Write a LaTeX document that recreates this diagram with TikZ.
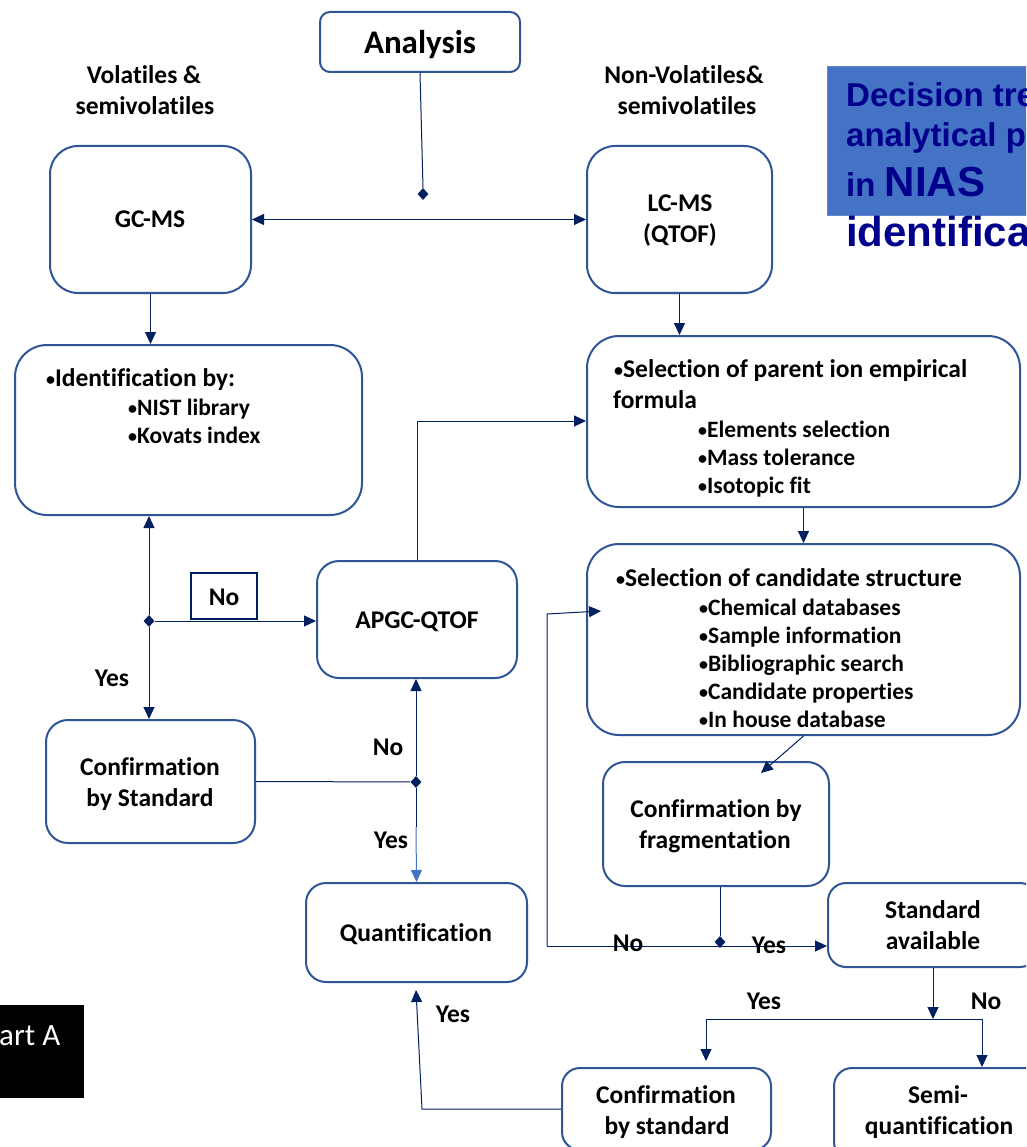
\documentclass[tikz,border=0pt]{standalone}
\usepackage{fontspec}
\setmainfont{Carlito}[Ligatures=NoCommon]
\newfontfamily\titlefont{Liberation Sans}
\usetikzlibrary{arrows.meta,shapes.geometric}
\definecolor{boxblue}{RGB}{47,85,151}
\definecolor{navy}{RGB}{0,32,96}
\definecolor{titlefill}{RGB}{68,114,196}
\definecolor{titletext}{RGB}{0,0,140}
\definecolor{lightarrow}{RGB}{68,114,196}
\newcommand{\bul}{{\fontsize{18}{18}\selectfont\raisebox{1pt}{•}}}
\begin{document}
\begin{tikzpicture}[x=1pt,y=-1pt,
  box/.style={draw=boxblue,line width=2pt,rounded corners=#1,fill=white,inner sep=0pt},
  box/.default=22pt,
  ln/.style={draw=navy,line width=1pt},
  arr/.style={ln,-{Triangle[length=12pt,width=11pt]}},
  dia/.style={diamond,fill=navy,draw=none,minimum width=11pt,minimum height=12pt,inner sep=0pt},
  tx/.style={font=\fontsize{25.5}{30}\selectfont\bfseries,inner sep=0pt},
  ts/.style={font=\fontsize{23.5}{28}\selectfont\bfseries,inner sep=0pt},
  tt/.style={font=\titlefont\fontsize{33}{38}\selectfont\bfseries,text=titletext,inner sep=0pt},
]
\useasboundingbox (0,0) rectangle (1026,1147);
\clip (0,0) rectangle (1026,1147);
\fill[white] (0,0) rectangle (1026,1147);

% title box
\node[fill=titlefill,draw=titlefill!85!white,line width=1pt,minimum width=203pt,minimum height=149pt,inner sep=0pt] (tb) at (928.5,141.5) {};
\node[tt,anchor=base west] (tl1) at (846,107) {Decision tre};
\node[tt,anchor=base west] (tl2) at (846,147) {analytical p};
\node[tt,anchor=base west] (tl3) at (846,197) {in \fontsize{42}{46}\selectfont NIAS};
\node[tt,font=\titlefont\fontsize{42}{46}\selectfont\bfseries,anchor=base west] (tl4) at (846,247) {identifica};

% boxes
\node[box=10pt,minimum width=200pt,minimum height=60pt] (an) at (420,42) {};
\node[box=28pt,minimum width=201pt,minimum height=147pt] (gc) at (150.5,219.5) {};
\node[box=28pt,minimum width=185pt,minimum height=147pt] (lc) at (679.5,219.5) {};
\node[box=32pt,minimum width=347pt,minimum height=170pt] (id) at (188.5,430) {};
\node[box=32pt,minimum width=433pt,minimum height=171pt] (sp) at (803.5,421.5) {};
\node[box=32pt,minimum width=433pt,minimum height=191pt] (cs) at (803.5,639.5) {};
\node[box,minimum width=200pt,minimum height=117pt] (ap) at (417,619.5) {};
\node[box,minimum width=209pt,minimum height=123pt] (csl) at (150.5,781.5) {};
\node[box,minimum width=226pt,minimum height=124pt] (cf) at (716,824) {};
\node[box=20pt,minimum width=221pt,minimum height=99pt] (qn) at (416.5,932.5) {};
\node[box=18pt,minimum width=210pt,minimum height=84pt] (sa) at (933,925) {};
\node[box=18pt,minimum width=209pt,minimum height=82pt] (cbs) at (666.5,1109) {};
\node[box=18pt,minimum width=210pt,minimum height=92pt] (sq) at (939,1114) {};
\node[fill=black,minimum width=84pt,minimum height=93pt,inner sep=0pt] (pa) at (42,1051.5) {};

% diamonds
\node[dia] (d0) at (423,194) {};
\node[dia] (d1) at (149,621) {};
\node[dia] (d2) at (416,782) {};
\node[dia] (d3) at (720,942) {};

% texts
\node[tx,font=\fontsize{33}{38}\selectfont\bfseries,anchor=base] (ant) at (420,54) {Analysis};
\node[tx,anchor=base] (v1) at (144,84) {Volatiles \&};
\node[tx,anchor=base] (v2) at (145,115) {semivolatiles};
\node[tx,anchor=base] (n1) at (684,84) {Non-Volatiles\&};
\node[tx,anchor=base] (n2) at (687,115) {semivolatiles};
\node[tx,anchor=base] (gct) at (150,228) {GC-MS};
\node[tx,anchor=base] (lct1) at (680,212) {LC-MS};
\node[tx,anchor=base] (lct2) at (680,243) {(QTOF)};
\node[tx,anchor=base west] (idt1) at (46,386) {\bul Identification by:};
\node[ts,anchor=base west] (idt2) at (128,415) {\bul NIST library};
\node[ts,anchor=base west] (idt3) at (128,443) {\bul Kovats index};
\node[tx,anchor=base west] (spt1) at (614,377) {\bul Selection of parent ion empirical};
\node[tx,anchor=base west] (spt2) at (613,408) {formula};
\node[ts,anchor=base west] (spt3) at (698,437) {\bul Elements selection};
\node[ts,anchor=base west] (spt4) at (698,465) {\bul Mass tolerance};
\node[ts,anchor=base west] (spt5) at (698,493) {\bul Isotopic fit};
\node[tx,anchor=base west] (cst1) at (616,586) {\bul Selection of candidate structure};
\node[ts,anchor=base west] (cst2) at (699,615) {\bul Chemical databases};
\node[ts,anchor=base west] (cst3) at (699,643) {\bul Sample information};
\node[ts,anchor=base west] (cst4) at (699,671) {\bul Bibliographic search};
\node[ts,anchor=base west] (cst5) at (699,699) {\bul Candidate properties};
\node[ts,anchor=base west] (cst6) at (699,727) {\bul In house database};
\node[tx,anchor=base] (apt) at (417,628) {APGC-QTOF};
\node[tx,anchor=base] (cslt1) at (150,775) {Confirmation};
\node[tx,anchor=base] (cslt2) at (150,806) {by Standard};
\node[tx,anchor=base] (cft1) at (716,817) {Confirmation by};
\node[tx,anchor=base] (cft2) at (715,848) {fragmentation};
\node[tx,anchor=base] (qnt) at (416,941) {Quantification};
\node[tx,anchor=base] (sat1) at (933,918) {Standard};
\node[tx,anchor=base] (sat2) at (933,949) {available};
\node[tx,anchor=base] (cbst1) at (666,1103) {Confirmation};
\node[tx,anchor=base] (cbst2) at (667,1134) {by standard};
\node[tx,anchor=base] (sqt1) at (938,1103) {Semi-};
\node[tx,anchor=base] (sqt2) at (939,1134) {quantification};
\node[font=\fontsize{31}{36}\selectfont,text=white,inner sep=0pt,anchor=base west] (pat) at (-1,1045) {art A};

% connectors
\draw[ln] (an.south) -- (d0.north);
\draw[ln,{Triangle[length=12pt,width=11pt]}-{Triangle[length=12pt,width=11pt]}] (gc.east) -- (lc.west);
\draw[arr] (gc.south) -- (gc.south |- id.north);
\draw[arr] (lc.south) -- (lc.south |- sp.north);
\draw[arr] (sp.south) -- (cs.north);
\coordinate (cfin) at (761,773);
\draw[arr] (cs.south) -- (cfin);
\draw[ln] (d3 |- cf.south) -- (d3);
\coordinate (lp1) at (547,946);
\coordinate (lp2) at (547,614);
\coordinate (cin) at (601,611);
\draw[arr] (lp1) -- (lp1 -| sa.west);
\draw[arr] (lp1) -- (lp2) -- (cin);
\coordinate (split) at (933,1019);
\coordinate (yl) at (706,1019);
\coordinate (nr) at (982,1019);
\draw[arr] (sa.south) -- (split);
\draw[ln] (yl) -- (nr);
\draw[arr] (yl) -- ([yshift=6pt]yl |- cbs.north);
\draw[arr] (nr) -- (nr |- sq.north);
\coordinate (bk) at (422,1109);
\coordinate (qtip) at (416,990);
\draw[arr] (cbs.west) -- (bk) -- (qtip);
\draw[ln] (csl.east) -- (d2);
\draw[arr] (d2) -- (d2 |- ap.south);
\coordinate (mid) at (416,827);
\draw[ln] (d2) -- (mid);
\draw[arr,draw=lightarrow] (mid) -- (qn.north);
\coordinate (apc) at (417,421);
\draw[arr] (ap.north) -- (apc) -- (apc -| sp.west);
\draw[arr] (d1) -- (d1 |- id.south);
\draw[arr] (d1) -- (d1 |- csl.north);
\draw[arr] (d1) -- (d1 -| ap.west);
\node[draw=navy,line width=1.5pt,fill=white,minimum width=66pt,minimum height=46pt,inner sep=0pt] (nobox) at (224,596) {};
\node[tx,anchor=base] (not) at (224,605) {No};

% labels
\node[tx,anchor=base] (l1) at (112,686) {Yes};
\node[tx,anchor=base] (l2) at (388,755) {No};
\node[tx,anchor=base] (l3) at (391,848) {Yes};
\node[tx,anchor=base] (l4) at (628,951) {No};
\node[tx,anchor=base] (l5) at (769,953) {Yes};
\node[tx,anchor=base] (l6) at (764,1009) {Yes};
\node[tx,anchor=base] (l7) at (986,1009) {No};
\node[tx,anchor=base] (l8) at (453,1022) {Yes};
\end{tikzpicture}
\end{document}
